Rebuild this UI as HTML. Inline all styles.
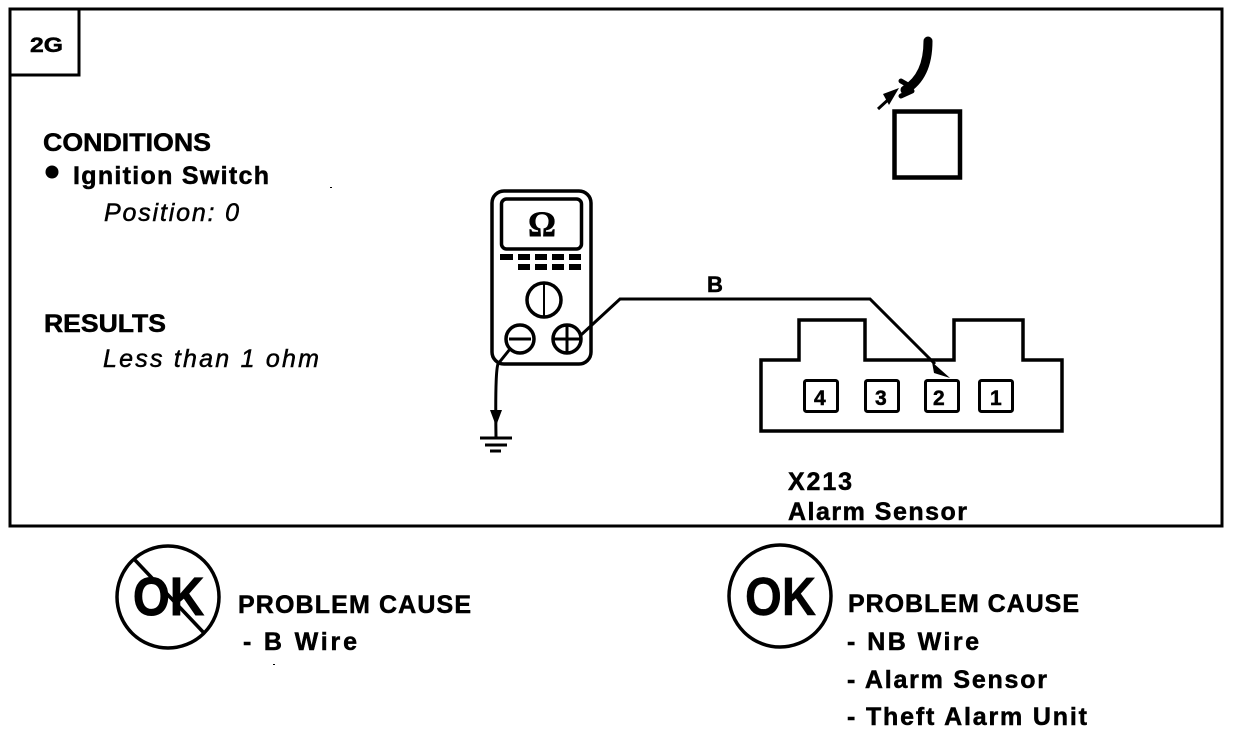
<!DOCTYPE html>
<html>
<head>
<meta charset="utf-8">
<style>
html,body{margin:0;padding:0;background:#fff;width:1248px;height:734px;overflow:hidden}
svg{display:block}
text{font-family:"Liberation Sans",sans-serif;fill:#000;font-weight:700;stroke:#000;stroke-width:.5}
.i{font-style:italic;font-weight:400;stroke-width:.5}
</style>
</head>
<body>
<svg width="1248" height="734" viewBox="0 0 1248 734" xmlns="http://www.w3.org/2000/svg">
<rect width="1248" height="734" fill="#fff"/>
<g fill="none" stroke="#000">
  <!-- frame -->
  <rect x="10" y="9" width="1212" height="517" stroke-width="3"/>
  <path d="M10 75H79V9" stroke-width="3"/>
  <!-- sensor square + cable -->
  <rect x="894.500" y="111.500" width="65.500" height="66" stroke-width="4.500"/>
  <path d="M928 41C928 62 922 80 905 90" stroke-width="9" stroke-linecap="round"/>
  <path d="M901 81L908 85M901 96L912 91" stroke-width="5" stroke-linecap="round"/>
  <path d="M878 109L890 98" stroke-width="3"/>
  <!-- meter -->
  <rect x="492" y="191" width="99" height="173" rx="12" stroke-width="3.500"/>
  <rect x="501.500" y="199" width="80" height="50" rx="5" stroke-width="3.500"/>
  <circle cx="544" cy="300" r="17" stroke-width="3.500"/>
  <path d="M544 283V317" stroke-width="2"/>
  <circle cx="520" cy="339" r="14" stroke-width="3.500"/>
  <path d="M509 339H531" stroke-width="3"/>
  <circle cx="567" cy="339" r="14" stroke-width="3.500"/>
  <path d="M553 339H581M567 325V353" stroke-width="3"/>
  <!-- wires -->
  <path d="M581 335L620 299H870L935 364" stroke-width="3"/>
  <path d="M510 349L498 364Q495 372 496 437" stroke-width="3"/>
  <path d="M480 438H512" stroke-width="3"/>
  <path d="M485 445H507" stroke-width="3"/>
  <path d="M490 451H501" stroke-width="3"/>
  <!-- connector -->
  <path d="M761 360H799V320H865V360H954V320H1023V360H1062V431H761Z" stroke-width="3.500"/>
  <rect x="804.500" y="380.500" width="33" height="31" rx="2" stroke-width="3"/>
  <rect x="865.500" y="380.500" width="33" height="31" rx="2" stroke-width="3"/>
  <rect x="925.500" y="380.500" width="33" height="31" rx="2" stroke-width="3"/>
  <rect x="979.500" y="380.500" width="33" height="31" rx="2" stroke-width="3"/>
  <!-- OK circles -->
  <circle cx="168" cy="597" r="51" stroke-width="3.500"/>
  <circle cx="780" cy="596" r="51" stroke-width="3.500"/>
  <path d="M134 559L204 633" stroke-width="3.500"/>
</g>
<g fill="#000">
  <!-- sensor arrow -->
  <path d="M899 88L883 94L889 105Z"/>
  <!-- meter keys -->
  <rect x="500" y="254" width="13" height="6"/>
  <rect x="518" y="254" width="12" height="6"/>
  <rect x="535" y="254" width="12" height="6"/>
  <rect x="552" y="254" width="12" height="6"/>
  <rect x="569" y="254" width="12" height="6"/>
  <rect x="518" y="264" width="12" height="6"/>
  <rect x="535" y="264" width="12" height="6"/>
  <rect x="552" y="264" width="12" height="6"/>
  <rect x="569" y="264" width="12" height="6"/>
  <!-- ground arrow -->
  <path d="M490 410H502L496 426Z"/>
  <!-- pin arrow -->
  <path d="M932 362L950 378L934 373Z"/>
  <circle cx="52" cy="172" r="6.500"/>
  <!-- specks -->
  <rect x="330" y="187" width="2" height="1"/>
  <rect x="273" y="664" width="2" height="1"/>
</g>
<text x="30" y="52" font-size="21" textLength="33" lengthAdjust="spacingAndGlyphs">2G</text>
<text x="43" y="151" font-size="25" textLength="168" lengthAdjust="spacingAndGlyphs">CONDITIONS</text>
<text x="73" y="184" font-size="25" textLength="196">Ignition Switch</text>
<text x="104" y="221" font-size="25" class="i" textLength="135">Position: 0</text>
<text x="44" y="332" font-size="25" textLength="122" lengthAdjust="spacingAndGlyphs">RESULTS</text>
<text x="103" y="367" font-size="25" class="i" textLength="216">Less than 1 ohm</text>
<text x="528" y="236" font-size="36" style="font-family:'Liberation Serif',serif" textLength="28" lengthAdjust="spacingAndGlyphs">Ω</text>
<text x="707" y="292" font-size="22">B</text>
<text x="814" y="405" font-size="21">4</text>
<text x="875" y="405" font-size="21">3</text>
<text x="933" y="405" font-size="21">2</text>
<text x="990" y="405" font-size="21">1</text>
<text x="788" y="490" font-size="25" textLength="64">X213</text>
<text x="788" y="520" font-size="25" textLength="179">Alarm Sensor</text>
<text x="133" y="615" font-size="54" textLength="71" lengthAdjust="spacingAndGlyphs" style="stroke-width:1">OK</text>
<text x="745" y="615" font-size="54" textLength="71" lengthAdjust="spacingAndGlyphs" style="stroke-width:.5">OK</text>
<text x="238" y="613" font-size="25" textLength="233">PROBLEM CAUSE</text>
<text x="243" y="650" font-size="25" textLength="114">- B Wire</text>
<text x="848" y="612" font-size="25" textLength="231">PROBLEM CAUSE</text>
<text x="847" y="650" font-size="25" textLength="132">- NB Wire</text>
<text x="847" y="688" font-size="25" textLength="200">- Alarm Sensor</text>
<text x="847" y="725" font-size="25" textLength="240">- Theft Alarm Unit</text>
</svg>
</body>
</html>
